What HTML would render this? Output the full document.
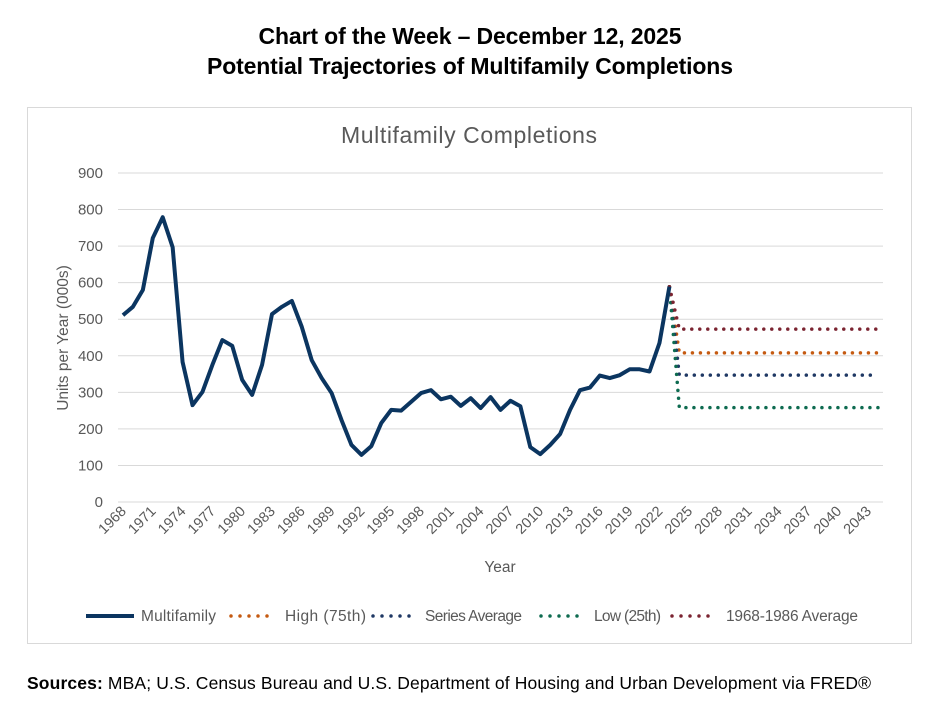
<!DOCTYPE html>
<html><head><meta charset="utf-8"><style>
body{margin:0;background:#fff;width:952px;height:710px;overflow:hidden;font-family:"Liberation Sans",sans-serif}
</style></head><body>
<svg width="952" height="710" xmlns="http://www.w3.org/2000/svg">
<text x="470" y="44" text-anchor="middle" font-size="23" font-weight="bold" fill="#000" textLength="423">Chart of the Week – December 12, 2025</text>
<text x="470" y="74" text-anchor="middle" font-size="23" font-weight="bold" fill="#000" textLength="526">Potential Trajectories of Multifamily Completions</text>
<rect x="27.5" y="107.5" width="884" height="536" fill="#fff" stroke="#d9d9d9"/>
<text x="469" y="143" text-anchor="middle" font-size="23" fill="#595959" textLength="256">Multifamily Completions</text>
<g id="grid"></g><g id="yt"></g><g id="xt"></g><g id="series"></g>
<text transform="translate(68,338) rotate(-90)" text-anchor="middle" font-size="15.5" fill="#595959">Units per Year (000s)</text>
<text x="500" y="572" text-anchor="middle" font-size="15.5" fill="#595959">Year</text>
<g id="legend"></g>
<text x="27" y="689" font-size="17.5" fill="#000" textLength="844"><tspan font-weight="bold">Sources:</tspan> MBA; U.S. Census Bureau and U.S. Department of Housing and Urban Development via FRED®</text>
</svg>
<script>
const startYear = 1968;
const nCats = 77;
const yTicks = [0,100,200,300,400,500,600,700,800,900];
const xTickYears = [1968,1971,1974,1977,1980,1983,1986,1989,1992,1995,1998,2001,2004,2007,2010,2013,2016,2019,2022,2025,2028,2031,2034,2037,2040,2043];
const multifamily = [511,534,580,722,779,697,383,265,301,375,443,427,334,293,375,514,534,550,479,388,339,298,224,156,129,153,216,252,250,274,298,306,281,288,263,284,257,287,252,277,262,150,131,156,186,252,306,313,346,339,347,363,363,357,435,589];
const projStartValue = 589;
const projEndYear = 2044;
const seriesNames = ["High (75th)","Series Average","Low (25th)","1968-1986 Average"];
const seriesLevels = [408,347,258,473];
const seriesColors = ["#c55a11","#1f3864","#0e6b50","#7b2431"];

const NS="http://www.w3.org/2000/svg";
const L=118,R=883,T=173,B=502;
const step=(R-L)/nCats;
const xS=yr=>L+step*(yr-startYear+0.5);
const yS=v=>B-(v/900)*(B-T);
function mk(tag,attrs,parent){const e=document.createElementNS(NS,tag);for(const k in attrs)e.setAttribute(k,attrs[k]);parent.appendChild(e);return e;}
const grid=document.getElementById('grid'),yt=document.getElementById('yt'),xt=document.getElementById('xt'),ser=document.getElementById('series'),leg=document.getElementById('legend');
yTicks.forEach(v=>{
  const g=mk('line',{x1:L,x2:R,y1:yS(v),y2:yS(v),stroke:'#d9d9d9','stroke-width':1},grid);
  
  
  const t=mk('text',{x:103,y:yS(v)+5,'text-anchor':'end','font-size':15,fill:'#595959'},yt);
  t.textContent=v;
  
  
});
xTickYears.forEach(yr=>{
  const x=xS(yr)+4,y=512;
  const t=mk('text',{x:x,y:y,'text-anchor':'end','font-size':14.5,fill:'#595959',transform:`rotate(-45 ${x} ${y})`},xt);
  t.textContent=yr;
  
  
});
const lastYr=startYear+multifamily.length-1;
seriesLevels.forEach((lv,i)=>{
  const d=`M${xS(lastYr)},${yS(projStartValue)} L${xS(lastYr+1)},${yS(lv)} L${xS(projEndYear)},${yS(lv)}`;
  const p=mk('path',{d:d,fill:'none',stroke:seriesColors[i],'stroke-width':3.5,'stroke-dasharray':'0 8','stroke-linecap':'round'},ser);
  
  
});
const pts=multifamily.map((v,i)=>`${xS(startYear+i)},${yS(v)}`).join(' ');
const pl=mk('polyline',{points:pts,fill:'none',stroke:'#0b3560','stroke-width':4,'stroke-linejoin':'round'},ser);


const ly=616;
const ml=mk('line',{x1:86,x2:134,y1:ly,y2:ly,stroke:'#0b3560','stroke-width':4},leg);


const mt=mk('text',{x:141,y:ly+5,'font-size':15.5,fill:'#595959',textLength:75},leg);
mt.textContent='Multifamily';


const legX=[231,373,541,672];
const legTx=[285,425,594,726];
const legLen=[81,97,67,132];
seriesNames.forEach((n,i)=>{
  const s=mk('line',{x1:legX[i],x2:legX[i]+45,y1:ly,y2:ly,stroke:seriesColors[i],'stroke-width':3.5,'stroke-dasharray':'0 9','stroke-linecap':'round'},leg);
  
  
  const t=mk('text',{x:legTx[i],y:ly+5,'font-size':15.5,fill:'#595959',textLength:legLen[i]},leg);
  t.textContent=n;
  
  
});
</script>
</body></html>
